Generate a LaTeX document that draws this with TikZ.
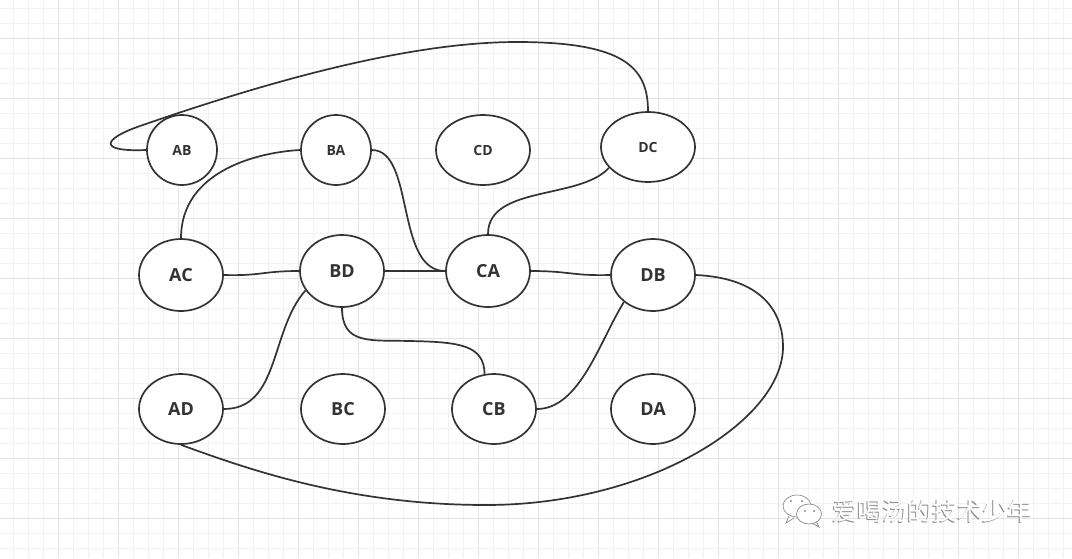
\documentclass[tikz,border=0pt]{standalone}
\usepackage{fontspec}
\setmainfont{Open Sans}
\newfontfamily\cjk{Noto Sans CJK SC}
\usetikzlibrary{shapes.geometric}
\definecolor{ink}{HTML}{333333}
\definecolor{gminor}{HTML}{F2F2F2}
\definecolor{gmajor}{HTML}{E3E3E3}
\definecolor{wmgray}{HTML}{8C8C8C}
\begin{document}
\begin{tikzpicture}[x=1pt,y=-1pt,
  st/.style={ellipse, draw=ink, line width=1.7pt, fill=white, inner sep=0pt, text=ink,
             minimum width=84pt, minimum height=72pt, font=\bfseries\fontsize{18}{18}\selectfont},
  sm/.style={st, minimum width=70pt, minimum height=70pt, font=\bfseries\fontsize{14}{14}\selectfont},
  conn/.style={draw=ink, line width=1.7pt},
  bubble/.style={draw=wmgray, line width=0.7pt, fill=white}]
\useasboundingbox (0,0) rectangle (1072,558);
\fill[white] (0,0) rectangle (1072,558);
% grid
\foreach \i in {0,...,70} \draw[gminor, line width=0.8pt] ({13+15*\i},0) -- ({13+15*\i},558);
\foreach \i in {0,...,36} \draw[gminor, line width=0.8pt] (0,{8+15*\i}) -- (1072,{8+15*\i});
\foreach \i in {0,...,16} \draw[gmajor, line width=0.9pt] ({58+60*\i},0) -- ({58+60*\i},558);
\foreach \i in {0,...,8} \draw[gmajor, line width=0.9pt] (0,{38+60*\i}) -- (1072,{38+60*\i});
% nodes
\node[sm] (ab) at (182,150) {AB};
\node[sm] (ba) at (336,150) {BA};
\node[sm, minimum width=94pt] (cd) at (483,150) {CD};
\node[sm, minimum width=94pt] (dc) at (648,147) {DC};
\node[st] (ac) at (181,275) {AC};
\node[st] (bd) at (342,271) {BD};
\node[st] (ca) at (488,271) {CA};
\node[st] (db) at (653,275) {DB};
\node[st, minimum height=70pt] (ad) at (181,409) {AD};
\node[st, minimum height=70pt] (bc) at (343,409) {BC};
\node[st, minimum height=70pt] (cb) at (494,409) {CB};
\node[st, minimum height=70pt] (da) at (653,409) {DA};
% connectors
\draw[conn] (ab.west) .. controls (100,152) and (100,140) .. (140,126)
   .. controls (250,88) and (400,42) .. (517,42)
   .. controls (625,42) and (648,68) .. (dc.north);
\draw[conn] (ba.west) .. controls (260,152) and (181,170) .. (ac.north);
\draw[conn] (ac.east) .. controls (262,276) and (262,271) .. (bd.west);
\draw[conn] (ba.east) .. controls (415,150) and (395,271) .. (ca.west);
\draw[conn] (bd.east) -- (ca.west);
\draw[conn] (dc.208) .. controls (580,200) and (488,185) .. (ca.north);
\draw[conn] (ca.east) .. controls (570,271) and (572,276) .. (db.west);
\draw[conn] (db.east) .. controls (760,278) and (783,310) .. (783,347)
   .. controls (783,420) and (650,505) .. (486,505)
   .. controls (350,505) and (250,470) .. (ad.south);
\draw[conn] (bd.south) .. controls (342,345) and (370,340) .. (410,341)
   .. controls (460,342) and (484,345) .. (cb.105);
\draw[conn] (bd.208) .. controls (270,330) and (280,409) .. (ad.east);
\draw[conn] (cb.east) .. controls (580,409) and (600,340) .. (db.223);
% watermark icon
\draw[bubble] (789,516) -- (786,523) -- (794,518);
\draw[bubble] (797,506) ellipse [x radius=14, y radius=11];
\fill[wmgray] (791,501) circle (1.2) (802,501) circle (1.2);
\draw[bubble] (816,521) -- (819,527) -- (812,523);
\draw[bubble] (809,514) ellipse [x radius=12.5, y radius=10];
\fill[wmgray] (805,511) circle (1.1) (814,511) circle (1.1);
% watermark text
\node[anchor=west, inner sep=0pt, text=wmgray, font=\cjk\fontsize{25}{25}\selectfont] (wms) at (831,512) {爱喝汤的技术少年};
\node[anchor=west, inner sep=0pt, text=white, font=\cjk\fontsize{25}{25}\selectfont] (wm) at (832,511) {爱喝汤的技术少年};
\end{tikzpicture}
\end{document}
